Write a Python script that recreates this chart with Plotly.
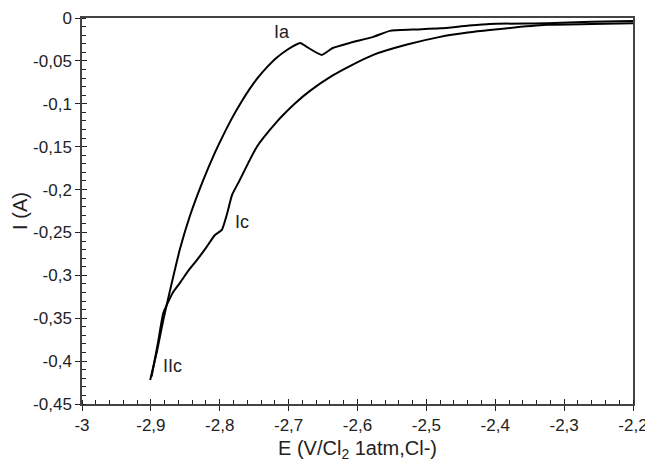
import plotly.graph_objects as go

# Upper branch (with anodic peak Ia)
e_upper = [-2.901, -2.891, -2.882, -2.870, -2.858, -2.843, -2.824, -2.807, -2.797, -2.781,
           -2.768, -2.756, -2.744, -2.731, -2.717, -2.702, -2.694, -2.683, -2.673, -2.652,
           -2.636, -2.611, -2.577, -2.553, -2.520, -2.480, -2.440, -2.408, -2.325, -2.260,
           -2.200]
i_upper = [-0.422, -0.388, -0.352, -0.310, -0.270, -0.230, -0.189, -0.157, -0.140, -0.115,
           -0.097, -0.082, -0.069, -0.057, -0.046, -0.037, -0.033, -0.029, -0.034, -0.043,
           -0.035, -0.029, -0.022, -0.015, -0.0135, -0.012, -0.009, -0.007, -0.006, -0.0045,
           -0.0035]

# Lower branch (with cathodic shoulders Ic, IIc)
e_lower = [-2.899, -2.890, -2.882, -2.876, -2.868, -2.858, -2.845, -2.833, -2.820, -2.807,
           -2.797, -2.789, -2.782, -2.771, -2.758, -2.746, -2.737, -2.715, -2.708, -2.690,
           -2.669, -2.636, -2.611, -2.577, -2.528, -2.480, -2.440, -2.408, -2.325, -2.260,
           -2.200]
i_lower = [-0.418, -0.380, -0.344, -0.333, -0.320, -0.309, -0.294, -0.282, -0.268, -0.253,
           -0.247, -0.227, -0.206, -0.189, -0.168, -0.150, -0.140, -0.119, -0.113, -0.099,
           -0.085, -0.067, -0.056, -0.043, -0.031, -0.022, -0.017, -0.014, -0.008, -0.007,
           -0.006]

x_tickvals = [-3, -2.9, -2.8, -2.7, -2.6, -2.5, -2.4, -2.3, -2.2]
x_ticktext = ["-3", "-2,9", "-2,8", "-2,7", "-2,6", "-2,5", "-2,4", "-2,3", "-2,2"]
y_tickvals = [0, -0.05, -0.1, -0.15, -0.2, -0.25, -0.3, -0.35, -0.4, -0.45]
y_ticktext = ["0", "-0,05", "-0,1", "-0,15", "-0,2", "-0,25", "-0,3", "-0,35", "-0,4", "-0,45"]

labels = ["Ia", "Ic", "IIc"]
label_e = [-2.710, -2.768, -2.868]
label_i = [-0.016, -0.238, -0.406]

font_family = "Liberation Sans, Arial, sans-serif"
txt_color = "#222222"

fig = go.Figure()
fig.add_trace(go.Scatter(x=e_upper, y=i_upper, mode="lines",
                         line=dict(color="black", width=2, shape="spline", smoothing=0.5),
                         showlegend=False))
fig.add_trace(go.Scatter(x=e_lower, y=i_lower, mode="lines",
                         line=dict(color="black", width=2, shape="spline", smoothing=0.5),
                         showlegend=False))
# invisible trace to carry the overlay axes (inner half of crossing ticks)
fig.add_trace(go.Scatter(x=[-3], y=[0], xaxis="x2", yaxis="y2", mode="markers",
                         marker=dict(opacity=0), showlegend=False, hoverinfo="skip"))

for t, xe, yi in zip(labels, label_e, label_i):
    fig.add_annotation(x=xe, y=yi, text=t, showarrow=False,
                       font=dict(family=font_family, size=18, color=txt_color))

axis_common = dict(showgrid=False, zeroline=False, linecolor="#444444", linewidth=1.5,
                   mirror=True, tickcolor="#222222", tickwidth=1, automargin=False,
                   tickfont=dict(size=17))

# page body has an 8px default margin, so the figure is sized/offset for it
fig.update_layout(
    width=645, height=457,
    margin=dict(l=74, r=20, t=10, b=61),
    paper_bgcolor="white", plot_bgcolor="white",
    font=dict(family=font_family, size=17, color=txt_color),
    xaxis=dict(range=[-3, -2.2], tickvals=x_tickvals, ticktext=x_ticktext,
               ticks="outside", ticklen=5,
               minor=dict(dtick=0.02, tick0=-3, ticks="inside", ticklen=4, tickcolor="#222222"),
               title=dict(text="E (V/Cl<sub>2</sub> 1atm,Cl-)", font=dict(size=20), standoff=7),
               **axis_common),
    yaxis=dict(range=[-0.45, 0], tickvals=y_tickvals, ticktext=y_ticktext,
               ticks="outside", ticklen=5,
               minor=dict(dtick=0.01, tick0=0, ticks="inside", ticklen=4, tickcolor="#222222"),
               title=dict(text="I (A)", font=dict(size=20), standoff=0),
               **axis_common),
    xaxis2=dict(range=[-3, -2.2], overlaying="x", tickvals=x_tickvals, showticklabels=False,
                ticks="inside", ticklen=5, tickcolor="#222222", showgrid=False, zeroline=False,
                showline=False, side="bottom", automargin=False),
    yaxis2=dict(range=[-0.45, 0], overlaying="y", tickvals=y_tickvals, showticklabels=False,
                ticks="inside", ticklen=5, tickcolor="#222222", showgrid=False, zeroline=False,
                showline=False, side="left", automargin=False),
)

fig.write_html("out.html")
